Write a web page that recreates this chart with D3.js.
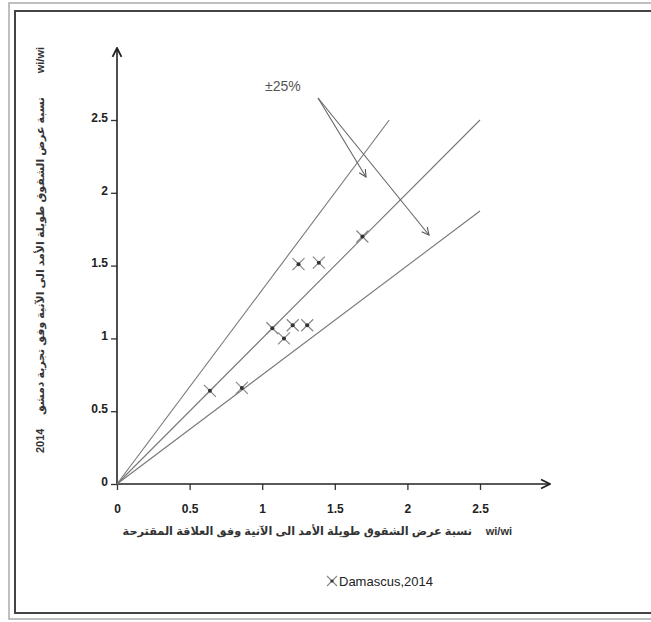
<!DOCTYPE html>
<html>
<head>
<meta charset="utf-8">
<script src="https://cdn.jsdelivr.net/npm/d3@7"></script>
<style>
  body { margin: 0; background: #fff; }
  text { font-family: "Liberation Sans", Arial, "DejaVu Sans", sans-serif; }
</style>
</head>
<body>
<script>
// measured ratios (x = proposed relation, y = Damascus test 2014)
var xVals = [0.64, 0.86, 1.07, 1.15, 1.21, 1.31, 1.25, 1.39, 1.69];
var yVals = [0.64, 0.66, 1.07, 1.00, 1.09, 1.09, 1.51, 1.52, 1.70];
var tickVals = [0, 0.5, 1, 1.5, 2, 2.5];
var tickLabels = ["0", "0.5", "1", "1.5", "2", "2.5"];
var lineSlopes = [1 / 0.75, 1, 0.75];   // +25%, 1:1, -25%
var lineMax = 2.5;

var w = 651, h = 622;
var svg = d3.select("body").append("svg")
    .attr("width", w)
    .attr("height", h);

// frame (double border)
svg.append("rect").attr("x", 9).attr("y", 3).attr("width", 660).attr("height", 616)
    .attr("fill", "none").attr("stroke", "#aaa").attr("stroke-width", 1.5);
svg.append("rect").attr("x", 15).attr("y", 11).attr("width", 650).attr("height", 602)
    .attr("fill", "none").attr("stroke", "#444").attr("stroke-width", 2);

var x = d3.scaleLinear().domain([0, 2.5]).range([117, 480]);
var y = d3.scaleLinear().domain([0, 2.5]).range([484, 120]);

// arrow markers
var defs = svg.append("defs");
defs.append("marker").attr("id", "axisArrow")
    .attr("viewBox", "0 0 10 10").attr("refX", 9).attr("refY", 5)
    .attr("markerWidth", 7).attr("markerHeight", 7).attr("orient", "auto")
    .append("path").attr("d", "M1,1 L9,5 L1,9").attr("fill", "none")
    .attr("stroke", "#222").attr("stroke-width", 1.6);
defs.append("marker").attr("id", "noteArrow")
    .attr("viewBox", "0 0 10 10").attr("refX", 9).attr("refY", 5)
    .attr("markerWidth", 9).attr("markerHeight", 9).attr("orient", "auto")
    .attr("markerUnits", "userSpaceOnUse")
    .append("path").attr("d", "M1,1 L9,5 L1,9").attr("fill", "none")
    .attr("stroke", "#555").attr("stroke-width", 1.2);

// axes
var xAxis = d3.axisBottom(x).tickValues(tickVals).tickFormat(function(d, i) { return tickLabels[i]; })
    .tickSize(6).tickPadding(14);
var yAxis = d3.axisLeft(y).tickValues(tickVals).tickFormat(function(d, i) { return tickLabels[i]; })
    .tickSize(6).tickPadding(3);

var gx = svg.append("g").attr("transform", "translate(0," + y(0) + ")").call(xAxis);
var gy = svg.append("g").attr("transform", "translate(" + x(0) + ",0)").call(yAxis);
[gx, gy].forEach(function(g) {
    g.select(".domain").remove();
    g.selectAll(".tick line").attr("stroke", "#333").attr("stroke-width", 1.3);
    g.selectAll(".tick text").attr("fill", "#222").attr("font-size", 12).attr("font-weight", "bold");
});
gy.selectAll(".tick text").attr("dy", "0.1em");

// axis lines with arrows
svg.append("line").attr("x1", x(0)).attr("y1", y(0)).attr("x2", 550).attr("y2", y(0))
    .attr("stroke", "#222").attr("stroke-width", 1.6).attr("marker-end", "url(#axisArrow)");
svg.append("line").attr("x1", x(0)).attr("y1", y(0)).attr("x2", x(0)).attr("y2", 48)
    .attr("stroke", "#222").attr("stroke-width", 1.6).attr("marker-end", "url(#axisArrow)");

// reference lines
svg.selectAll(".refline").data(lineSlopes).enter().append("line")
    .attr("class", "refline")
    .attr("x1", x(0)).attr("y1", y(0))
    .attr("x2", function(s) { return x(s > 1 ? lineMax / s : lineMax); })
    .attr("y2", function(s) { return y(s > 1 ? lineMax : lineMax * s); })
    .attr("stroke", "#777").attr("stroke-width", 1.1);

// points (x markers with dot)
var pts = svg.selectAll(".pt").data(xVals).enter().append("g")
    .attr("class", "pt")
    .attr("transform", function(d, i) { return "translate(" + x(d) + "," + y(yVals[i]) + ")"; });
pts.append("path").attr("d", "M-6,-6L6,6M-6,6L6,-6")
    .attr("stroke", "#888").attr("stroke-width", 1.2);
pts.append("circle").attr("r", 2).attr("fill", "#333");

// ±25% annotation
svg.append("text").attr("x", 265).attr("y", 91).attr("font-size", 14).attr("fill", "#555")
    .text("±25%");
svg.append("line").attr("x1", 318).attr("y1", 98).attr("x2", 366).attr("y2", 177)
    .attr("stroke", "#666").attr("stroke-width", 1.1).attr("marker-end", "url(#noteArrow)");
svg.append("line").attr("x1", 318).attr("y1", 98).attr("x2", 429).attr("y2", 235)
    .attr("stroke", "#666").attr("stroke-width", 1.1).attr("marker-end", "url(#noteArrow)");

// x axis label
svg.append("text").attr("x", 512).attr("y", 535).attr("text-anchor", "end")
    .attr("font-size", 11).attr("font-weight", "bold").attr("fill", "#333")
    .text("wi/wi");
svg.append("text").attr("x", 472).attr("y", 535).attr("text-anchor", "start")
    .attr("direction", "rtl").attr("font-size", 11.3).attr("font-weight", "bold").attr("fill", "#333")
    .text("نسبة عرض الشقوق طويلة الأمد الى الآنية وفق العلاقة المقترحة");

// y axis label (rotated)
var yl = svg.append("g").attr("transform", "translate(44,0) rotate(-90)");
yl.append("text").attr("x", -47).attr("y", 0).attr("text-anchor", "end")
    .attr("font-size", 11).attr("font-weight", "bold").attr("fill", "#333")
    .text("wi/wi");
yl.append("text").attr("x", -453).attr("y", 0).attr("text-anchor", "start")
    .attr("font-size", 11).attr("font-weight", "bold").attr("fill", "#333")
    .text("2014");
yl.append("text").attr("x", -97).attr("y", 0).attr("text-anchor", "start")
    .attr("direction", "rtl").attr("font-size", 11).attr("font-weight", "bold").attr("fill", "#333")
    .text("نسبة عرض الشقوق طويلة الأمد الى الآنية وفق تجربة دمشق");

// legend
var lg = svg.append("g").attr("transform", "translate(332,581)");
lg.append("path").attr("d", "M-5,-5L5,5M-5,5L5,-5").attr("stroke", "#888").attr("stroke-width", 1.2);
lg.append("circle").attr("r", 1.6).attr("fill", "#333");
lg.append("text").attr("x", 7).attr("y", 5).attr("font-size", 13).attr("fill", "#222")
    .text("Damascus,2014");
</script>
</body>
</html>
